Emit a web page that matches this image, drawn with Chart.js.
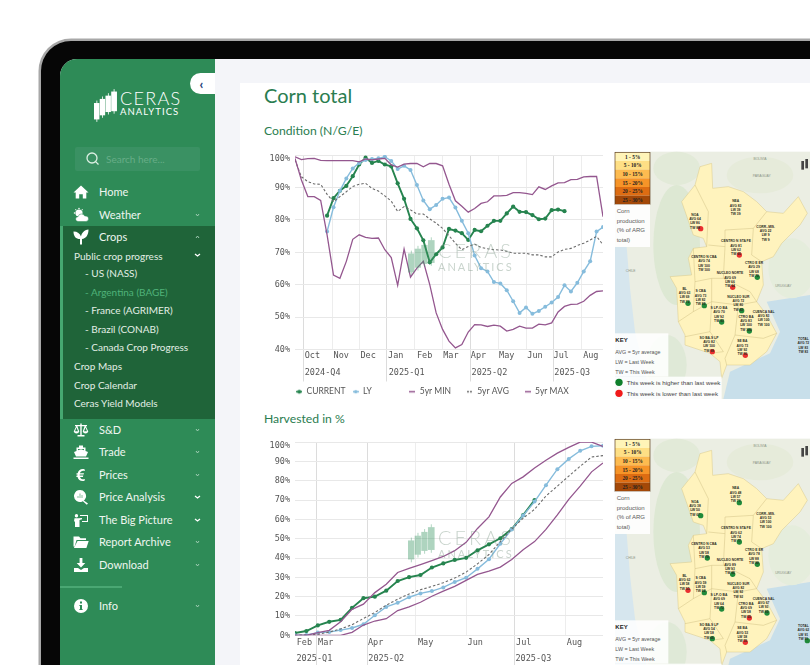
<!DOCTYPE html>
<html><head><meta charset="utf-8">
<script src="https://cdn.jsdelivr.net/npm/chart.js@4"></script>
<style>
html,body{margin:0;padding:0;width:810px;height:665px;overflow:hidden;background:#fff;font-family:Lato,sans-serif}
#root{position:absolute;left:0;top:0;width:810px;height:665px;overflow:hidden;filter:blur(.45px)}
.abs{position:absolute}
#frame{left:41px;top:41px;width:900px;height:800px;border-radius:30px;background:#060606;box-shadow:0 0 0 2.5px #a8a8a8}
#content{left:60px;top:59px;width:800px;height:700px;background:#f4f5f9;border-radius:17px 0 0 0;overflow:hidden}
#card{left:240px;top:83px;width:600px;height:620px;background:#fff}
#side{left:60px;top:59px;width:155px;height:640px;background:#2e8b57;border-radius:17px 0 0 0;overflow:hidden}
.t{position:absolute;white-space:nowrap;line-height:1;transform:translateY(-50%)}
.m{color:#eef6f0;font-size:11px}
.s{color:#e3efe6;font-size:10px}
canvas{position:absolute}
</style></head><body>
<div id="root">
<div class="abs" id="frame"></div>
<div class="abs" id="content"></div>
<div class="abs" id="card"></div>
<div class="abs" id="side"></div>
<div id="chrome"></div>
<div class="t" style="left:264px;top:95px;font-size:20px;color:#2a7d50">Corn total</div>
<div class="t" style="left:264px;top:130.5px;font-size:12.2px;color:#2a7d50">Condition (N/G/E)</div>
<div class="t" style="left:264px;top:418.5px;font-size:12.2px;color:#2a7d50">Harvested in %</div>
<canvas id="c1" style="left:262px;top:145px" width="348" height="261"></canvas>
<canvas id="c2" style="left:262px;top:432px" width="348" height="233"></canvas>
<div id="marks"></div>
<div id="maps"></div>
</div>
<script>
// ---------- Condition (N/G/E) ----------
const condCurrent=[null,null,null,null,null,81.3,86.7,89,90.5,93.5,97.1,99.2,97.6,98.2,97.1,96.5,91.3,86.5,80.3,77.4,73.7,66.9,69.4,71.5,77.2,76.7,75.9,73.8,76.9,76.5,78.2,79.7,79.7,82,84.1,82.5,82.4,81.5,80.2,80.4,83,83.2,82.7];
const condLY=[null,null,null,null,null,76.4,83.9,89,92.8,95.9,97.6,98.5,98.8,99,99.5,98.2,95.7,96.7,95.4,90.8,86,83.3,84.6,86.5,86.9,83.8,79.7,75.9,69,65.1,64.1,60.8,60.4,58.3,54.9,51.3,53,51,51.9,53.2,54.5,56.2,59.8,57.9,60.6,64.1,67.2,76.4,77.8];
const condMin=[99,92.3,87.2,87.2,86,75.4,63,62,67.2,74,75.4,74.6,74.3,74.4,70.8,68.4,59.8,71,62.3,65.1,67.2,60,51.3,46.2,42.6,40.5,41.5,45.4,47.7,47.6,47.1,47.5,47.2,45.7,46.2,47.2,46.6,46.6,47.8,47.6,48.2,51.6,53.3,53.9,54,54.9,56.7,57.9,58.1];
const condAvg=[98.5,93.3,91.8,91.1,91,87.9,85.6,87.2,88.7,90.3,91,91.3,89.7,88.9,87.4,85.8,82.6,84.1,83.1,81.8,81.8,80.3,79,77.4,75.1,72.8,70.8,71.8,72.5,71.5,71.1,70.8,70.7,70.3,69.7,69.7,69.7,69.2,69.2,68.6,68.6,70.1,70.9,71.2,72.1,72.8,73.8,74.9,72.3];
const condMax=[99.5,98.6,98.9,99,98.4,98.3,98.3,98.3,98.3,98.3,97.9,98.8,98.5,98.8,99,97,96.3,97.2,97.4,97.4,96.4,97.4,97.4,96.7,91,85.9,84.2,82.4,83.5,85.1,85.6,87.4,87.4,87.6,88.4,88.4,88.2,87.8,90.2,89.4,90.5,91.4,91.5,92.4,92.5,93.3,93.4,93.4,81];
const condMonths=['Oct','Nov','Dec','Jan','Feb','Mar','Apr','May','Jun','Jul','Aug'];
const condMonthAt=[2.7,7.2,11.4,15.7,20.2,24.3,28.6,33,37.4,41.5,46.1];
const condQuarters=['2024-Q4','2025-Q1','2025-Q2','2025-Q3'];
const condQuarterAt=[4.3,17.4,30.3,43.2];
const condQuarterLines=[1.3,14.3,27.3,40.3];
const condMonthLines=[5.8,10.1,18.7,23,31.7,36,44.6];
const condYGrid=[40,50,60,70,80,90,100];
const condYLabelAt=[40,50,60,70,80,90,98.8];
const condYLabels=['40%','50%','60%','70%','80%','90%','100%'];
// ---------- Harvested in % ----------
const harvCurrent=[1.2,2.2,5.1,7,8,14.2,19.2,20,23.1,28.1,30.1,31.2,35.1,37.2,39,40.1,44,47.1,50.2,55,62.2,70];
const harvLY=[0,.2,1.4,1.7,2.7,3.8,5.7,10.4,14.7,16.8,19.7,21.7,22.9,24.8,27.6,29.8,34.4,39.4,47.4,54.8,62,69.2,77.7,86,91.3,95.5,97.8,98.1];
const harvMin=[0,0,0,0,0,1.5,5.3,7.4,8.6,12.8,14.7,17.1,20.2,22.9,25.3,28.4,31.5,33.2,35.3,39.2,44.3,48.5,54.8,62.3,70.4,77.2,84.6,89.2];
const harvAvg=[0,.2,.5,1.7,3.3,5.5,8.7,11.8,15.6,18.7,21.4,23.6,25.3,27.2,29.6,32.7,37,41.8,48.5,55,60.6,65.2,72.1,77.2,82.4,87.5,92.3,93];
const harvMax=[0,0,1.4,2.6,7,13.4,16.1,22.1,26.4,32.5,34.6,36.6,38.7,40.8,43.8,48.1,55.3,61.3,71.6,78.6,82,86.6,90.6,94.3,97.3,100,100,97.8];
const harvMonths=['Feb','Mar','Apr','May','Jun','Jul','Aug'];
const harvMonthAt=[.82,2.69,7.07,11.45,15.8,20.05,24.5];
const harvQuarters=['2025-Q1','2025-Q2','2025-Q3'];
const harvQuarterAt=[1.7,8,20.9];
const harvQuarterLines=[1.9,6.34,19.27];
const harvMonthLines=[10.6,15,23.7];
const harvYGrid=[0,10,20,30,40,50,60,70,80,90,100];
const harvYLabelAt=[0,10,20,30,40,50,60,70,80,90,98];
const harvYLabels=['0%','10%','20%','30%','40%','50%','60%','70%','80%','90%','100%'];

const GREEN='#26844f',BLUE='#86bcdc',PURPLE='#94578f',GREY='#6b6b6b';
const FONT={family:'"DejaVu Sans Mono",monospace',size:8.5};
const LEGFONT={family:'Lato,sans-serif',size:8.5};
const TICK='#555';

function icon(col,dot,dash){const c=document.createElement('canvas');c.width=6;c.height=7;const x=c.getContext('2d');
 x.strokeStyle=col;x.lineWidth=1.5;x.setLineDash(dash?[2,1]:[]);x.beginPath();x.moveTo(0,3.5);x.lineTo(6,3.5);x.stroke();
 x.fillStyle=col;x.beginPath();x.arc(3,3.5,dot,0,7);x.fill();return c;}
function padded(t,w){const c=document.createElement('canvas').getContext('2d');c.font=LEGFONT.size+'px '+LEGFONT.family;
 while(c.measureText(t).width<w)t+=' ';return t;}

function axisAt(pos,grid,extra){return Object.assign({type:'linear',position:'bottom',weight:-1,min:0,max:0,
  grid:grid,border:{display:false},ticks:{display:false},afterBuildTicks:s=>{s.ticks=pos.map(v=>({value:v}))},afterFit:s=>{s.height=0}},extra||{});}
function labelAxis(pos,names,h,pad,weight){return {type:'linear',position:'bottom',weight:weight,min:0,max:0,
  grid:{display:false,drawTicks:false},border:{display:false},
  ticks:{font:FONT,color:TICK,padding:pad,autoSkip:false,maxRotation:0,minRotation:0,callback:(v,i)=>names[i]},
  afterBuildTicks:s=>{s.ticks=pos.map(v=>({value:v}))},afterFit:s=>{s.height=h}};}

function draw(id,d){
 const n=d.max.length;
 const weeks=d.max.map((_,i)=>i);
 const ds=(label,data,color,extra)=>Object.assign({label,data,borderColor:color,backgroundColor:color,pointRadius:0,borderWidth:1.3,tension:0,xAxisID:'x',yAxisID:'y',spanGaps:false},extra||{});
 const scales={
  x:labelAxis(d.monthAt,d.months,d.mh,d.mp,1),
  xq:labelAxis(d.quarterAt,d.quarters,d.qh,d.qp,2),
  xm:axisAt(d.monthLines,{color:'#ededed',lineWidth:1,drawTicks:false}),
  xb:axisAt(d.quarterLines,{color:'#dcdcdc',lineWidth:1,drawTicks:true,tickLength:d.tl,tickColor:'#dcdcdc'}),
  y:{type:'linear',position:'left',min:d.ymin,max:100,weight:1,border:{display:false},grid:{color:'#e8e8e8',lineWidth:1,drawTicks:false},
     ticks:{display:false},afterBuildTicks:s=>{s.ticks=d.yGrid.map(v=>({value:v}))},afterFit:s=>{s.width=0}},
  yl:{type:'linear',position:'left',min:d.ymin,max:100,weight:2,border:{display:false},grid:{display:false,drawTicks:false},
     ticks:{font:FONT,color:TICK,padding:5,autoSkip:false,callback:(v,i)=>d.yLabels[i]},
     afterBuildTicks:s=>{s.ticks=d.yLabelAt.map(v=>({value:v}))},afterFit:s=>{s.width=33}}
 };
 for(const k of ['x','xq','xm','xb']) scales[k].max=n-1;
 const items=[['CURRENT',GREEN,2,false],['LY',BLUE,1.7,false],['5yr MIN',PURPLE,0,false],['5yr AVG',GREY,0,true],['5yr MAX',PURPLE,0,false]];
 new Chart(document.getElementById(id),{type:'line',
  data:{labels:weeks,datasets:[
   ds('5yr MIN',d.min,PURPLE),ds('5yr MAX',d.max,PURPLE),
   ds('5yr AVG',d.avg,GREY,{borderDash:[2.5,2],borderWidth:1.1}),
   ds('LY',d.ly,BLUE,{pointRadius:2,pointBackgroundColor:BLUE,pointBorderWidth:0,borderWidth:1.4}),
   ds('CURRENT',d.cur,GREEN,{pointRadius:2.1,pointBackgroundColor:GREEN,pointBorderWidth:0,borderWidth:1.9})]},
  options:{responsive:false,animation:false,devicePixelRatio:1,
   layout:{autoPadding:false,padding:{top:8.3,right:7,left:0,bottom:0}},
   scales,
   plugins:{tooltip:{enabled:false},title:{display:false},
    legend:{display:d.legend,position:'bottom',align:'center',labels:{font:LEGFONT,color:TICK,usePointStyle:true,pointStyleWidth:6,padding:5,boxHeight:9,
      generateLabels:()=>items.map((it,i)=>({text:i<4?padded(it[0],40.5):it[0],fillStyle:it[1],strokeStyle:it[1],pointStyle:icon(it[1],it[2],it[3]),lineWidth:0,hidden:false,fontColor:TICK}))}}}
  }});
}
draw('c1',{cur:condCurrent,ly:condLY,min:condMin,avg:condAvg,max:condMax,months:condMonths,monthAt:condMonthAt,quarters:condQuarters,quarterAt:condQuarterAt,quarterLines:condQuarterLines,monthLines:condMonthLines,yGrid:condYGrid,yLabelAt:condYLabelAt,yLabels:condYLabels,ymin:40,mh:14,mp:1,qh:19,qp:4,tl:32,legend:true});
draw('c2',{cur:harvCurrent,ly:harvLY,min:harvMin,avg:harvAvg,max:harvMax,months:harvMonths,monthAt:harvMonthAt,quarters:harvQuarters,quarterAt:harvQuarterAt,quarterLines:harvQuarterLines,monthLines:harvMonthLines,yGrid:harvYGrid,yLabelAt:harvYLabelAt,yLabels:harvYLabels,ymin:0,mh:14,mp:2,qh:15.7,qp:4,tl:32,legend:false});

// ---------- page chrome ----------
const sideMain=[['Home',192,'home',0],['Weather',215,'sun',1],['Crops',237,'leaf',3],['S&D',430,'scale',1],['Trade',452,'ship',1],['Prices',475,'euro',1],['Price Analysis',497,'find',2],['The Big Picture',520,'board',2],['Report Archive',542,'folder',1],['Download',565,'down',1],['Info',606,'info',1]];
const sideSub=[['Public crop progress',74,256,0],['- US (NASS)',85,273,0],['- Argentina (BAGE)',85,292,1],['- France (AGRIMER)',85,310,0],['- Brazil (CONAB)',85,329,0],['- Canada Crop Progress',85,347,0],['Crop Maps',74,366,0],['Crop Calendar',74,385,0],['Ceras Yield Models',74,403,0]];
const ICONS={
 home:'<path d="M8 1.5 15.5 8.5H13.3V14.5H9.8V10.3H6.2V14.5H2.7V8.5H.5Z"/>',
 sun:'<circle cx="6" cy="6" r="3.6"/><path d="M6 .5 7 2H5ZM.5 6 2 5V7ZM2 2 3.6 2.6 2.6 3.6ZM10 2 9.4 3.6 8.4 2.6Z"/><path d="M5 14.5a2.4 2.4 0 0 1 0-4.8 3.6 3.6 0 0 1 6.8-.6 2.8 2.8 0 0 1 3.7 2.7 2.7 2.7 0 0 1-2.6 2.7Z" stroke="#2e8b57" stroke-width=".5"/>',
 leaf:'<path d="M7 15.5V10C3 10 .5 7.5.5 2.5 4.5 2.5 7 4.5 8 7.5 8.5 4 11 1 15.5.5 15.5 6 13 9.5 9 10V15.5Z"/>',
 scale:'<path d="M7.3 1.5H8.7V3H14V4.2H12.8L15.3 9.5A3 3 0 0 1 9.7 9.5L11.6 4.2H8.7V13H11.5V14.5H4.5V13H7.3V4.2H4.4L6.3 9.5A3 3 0 0 1 .7 9.5L3.2 4.2H2V3H7.3ZM3.5 5.5 2 9.3H5ZM12.5 5.5 11 9.3H14Z"/>',
 ship:'<path d="M6 1.5H10V3.5H12.5V7L15 8 13 12.5H3L1 8 3.5 7V3.5H6ZM5 5V6.3L8 5.3 11 6.3V5ZM.5 13.5H15.5V15H.5Z"/>',
 euro:'<path d="M11.5 2.2 12 4C9.5 3.2 7.5 4 6.9 6.3H11L10.6 7.6H6.7V8.6H10.3L9.9 9.9H7C7.6 12 9.6 12.8 12 12L11.5 13.8C8 14.7 5.2 13 4.6 9.9H3.3L3.6 8.6H4.5V7.6H3.3L3.6 6.3H4.7C5.3 3 8 1.3 11.5 2.2Z"/>',
 find:'<path d="M7 1a6 6 0 1 1-3.4 10.9 6 6 0 0 1 3.4-10.9ZM10.8 11.4 15 14.6 13.8 15.8 9.9 12.2Z"/><path d="M4.5 9V7H5.5V9ZM6.5 9V4.5H7.5V9ZM8.5 9V6H9.5V9Z" fill="#86bd9c"/>',
 board:'<path d="M7 3H15V10H9V9H14V4H7ZM3.5 2A1.7 1.7 0 1 1 3.4 5.4 1.7 1.7 0 0 1 3.5 2ZM1.5 6.2H5.5L9 6V7.2L6.5 8V15H2V9.5H1Z"/>',
 folder:'<path d="M.5 2.5H6L7.5 4.2H13V6H3.6L1.6 12.5H.5ZM4.5 7H15.7L13.4 14H.9Z"/>',
 down:'<path d="M6.6 1H9.4V6H12.3L8 10.5 3.7 6H6.6ZM1 11H5L8 13 11 11H15V15H1Z"/>',
 info:'<path fill-rule="evenodd" d="M8 1a7 7 0 1 1 0 14A7 7 0 0 1 8 1ZM7 3.5V5.5H9V3.5ZM6.4 7V8H7V11H6.4V12H9.6V11H9V7Z"/>'};
function ceras(x,y,scale,col,textCol,sub){
 const b=[[0,11,3.6,20],[7,6,3.6,20],[14,2,3.6,20],[21,-3,4,24]];
 let bars=b.map(a=>`<rect x="${a[0]}" y="${a[1]}" width="${a[2]+3}" height="${a[3]}" fill="${col}"/><rect x="${a[0]+3}" y="${a[1]-3}" width="1" height="${a[3]+6}" fill="${col}"/>`).join('');
 return `<svg class="abs" style="left:${x}px;top:${y}px;overflow:visible" width="95" height="36" viewBox="0 0 95 36"><g transform="scale(${scale})">${bars}</g></svg>
 <div class="t" style="left:${x+sub[0]}px;top:${y+sub[1]}px;color:${textCol};font-size:${sub[2]}px;letter-spacing:${sub[3]}px;font-weight:300">CERAS</div>
 <div class="t" style="left:${x+sub[0]}px;top:${y+sub[1]+sub[4]}px;color:${textCol};font-size:${sub[5]}px;letter-spacing:${sub[6]}px">ANALYTICS</div>`;}
function chev(x,y,col,w,up){return `<svg class="abs" style="left:${x-w/2-1}px;top:${y-3}px" width="${w+2}" height="6" fill="none" stroke="${col}" stroke-width="${w>4?1.3:.9}"><path d="${up?`M1 4 ${1+w/2} 2 ${1+w} 4`:`M1 2 ${1+w/2} 4 ${1+w} 2`}"/></svg>`;}
let h='';
h+=`<div class="abs" style="left:60px;top:226px;width:155px;height:193px;background:#1f6439"></div><div class="abs" style="left:60px;top:226px;width:3px;height:193px;background:#46a871"></div>`;
h+=`<div class="abs" style="left:60px;top:586px;width:62px;height:2px;background:#4aa773"></div>`;
h+=`<div class="abs" style="left:190px;top:73px;width:25px;height:21px;background:#fff;border-radius:11px 0 0 11px"></div><div class="t" style="left:199.5px;top:83.5px;color:#1d3f7a;font-size:13px;font-weight:900">‹</div>`;
h+=ceras(94,94,.82,'#fff','#fff',[26,4,18,1.3,13.5,9.5,1.05]);
h+=`<div class="abs" style="left:75px;top:147px;width:125px;height:24px;background:#3a9163;border-radius:2px"></div>
<svg class="abs" style="left:85px;top:151px" width="15" height="15" fill="none" stroke="#dcefe3" stroke-width="1.3"><circle cx="7" cy="7" r="5"/><path d="M10.6 10.6 13.5 13.5"/></svg>
<div class="t" style="left:106px;top:159px;font-size:10px;color:#67ad87">Search here...</div>`;
for(const [name,y,ic,ch] of sideMain){
 h+=`<svg class="abs" style="left:73px;top:${y-8}px" width="16" height="16" viewBox="0 0 16 16" fill="#fff">${ICONS[ic]}</svg><div class="t m" style="left:99px;top:${y-1}px">${name.replace('&','&amp;')}</div>`;
 if(ch===1) h+=chev(197,y,'#a9d3bb',3,false);
 if(ch===2) h+=chev(197,y,'#fff',5,false);
 if(ch===3) h+=chev(197,y,'#a9d3bb',3,true);
}
h+=chev(197,255,'#fff',5,false);
for(const [name,x,y,act] of sideSub) h+=`<div class="t s" style="left:${x}px;top:${y-.5}px;${act?'color:#4fb37a':''}">${name}</div>`;
document.getElementById('chrome').innerHTML=h;
document.getElementById('marks').innerHTML=
 '<div style="opacity:.42">'+ceras(408,243,.95,'#3f9a68','#7f9a88',[30,7,20,3,16,11,2])+'</div>'+
 '<div style="opacity:.42">'+ceras(408,530,.95,'#3f9a68','#7f9a88',[30,7,20,3,16,11,2])+'</div>';

// ---------- the two production maps (illustration beside each chart) ----------
const regionsNames=[['NOA',255,212,272,251],['NEA',377,172,388,212],['CORR.-MIS.',467,248,478,288],['CENTRO N STA FE',378,292,388,330],['CENTRO N CBA',282,339,292,378],['CTRO E ER',432,357,442,397],['NUCLEO NORTE',360,388,368,427],['BL',224,434,234,475],['S CBA',272,442,283,482],['NUCLEO SUR',385,458,395,497],['S LP-O BA',327,492,335,531],['CUENCA SAL',461,503,471,543],['CTRO BA',408,518,418,558],['SO BA-S LP',297,581,307,620],['SE BA',397,592,406,631],['TOTAL',580,585,592,626]];
const map1Vals=[[64,86,88,'r'],[83,39,39,''],[22,9,9,''],[81,62,60,'r'],[74,100,100,''],[29,68,70,'g'],[69,66,64,'r'],[63,69,72,'g'],[73,82,85,'g'],[72,80,82,'g'],[70,92,93,'g'],[83,100,100,''],[83,100,100,'g'],[82,100,98,'r'],[73,92,90,'r'],[72,83,83,'']];
const map2Vals=[[38,50,67,'g'],[48,57,73,'g'],[53,100,100,''],[62,74,77,'g'],[53,58,70,'g'],[78,88,90,'g'],[89,93,95,'g'],[62,58,55,'r'],[59,59,62,'g'],[82,92,92,''],[69,64,72,'g'],[67,93,95,'g'],[69,58,55,'r'],[54,58,66,'g'],[53,58,55,'r'],[62,91,91,'g']];
const shades=[['1 - 5%','#fff4b8'],['5 - 10%','#fedf85'],['10 - 15%','#fdbb50'],['15 - 20%','#f69428'],['20 - 25%','#dd6c12'],['25 - 30%','#a34808']];
const outline='M270,65 L305,55 L308,130 L355,125 L400,140 L440,170 L470,200 L520,205 L565,155 L592,205 L570,240 L515,295 L490,335 L455,350 L460,420 L440,470 L470,510 L500,565 L470,620 L420,660 L350,660 L335,700 L330,650 L300,625 L225,600 L225,570 L205,530 L200,430 L180,395 L245,390 L235,340 L250,310 L290,305 L280,280 L250,270 L215,170 L255,120 Z';
const borders='M290,305 L295,200 L255,120 M295,300 L345,305 L345,255 L430,250 L470,200 M430,250 L425,330 L455,350 M345,305 L340,400 L305,400 L305,470 L250,500 L205,530 M250,310 L255,410 L305,400 M255,410 L250,500 M305,470 L300,560 L225,575 M300,560 L340,620 L300,625 M340,400 L420,440 L440,470 M305,470 L385,480 L440,470 M385,480 L375,570 L460,580 L500,565 M375,570 L345,640 L350,660';
function mapSvg(top,vals,key){
 let s=`<svg class="abs" style="left:610px;top:${top}px" width="200" height="260" viewBox="0 0 600 780" font-family="Liberation Sans,sans-serif">`;
 s+=`<rect x="15" y="20" width="585" height="742" fill="#ebeee3"/>`;
 s+=`<path d="M15,305 H50 L60,430 L75,560 L110,700 L150,762 H15Z" fill="#d6e6ee"/>`;
 s+=`<path d="M600,450 L470,470 L510,560 L480,625 L360,680 L340,762 H600Z" fill="#c8dfea"/>`;
 s+=`<ellipse cx="200" cy="300" rx="70" ry="180" fill="#dde8d3"/><ellipse cx="170" cy="660" rx="60" ry="90" fill="#dfe9d7"/><ellipse cx="200" cy="70" rx="70" ry="50" fill="#e2ead8"/><ellipse cx="545" cy="370" rx="70" ry="90" fill="#e5edDc"/><ellipse cx="450" cy="90" rx="100" ry="55" fill="#e6ebda"/>`;
 s+=`<path d="${outline}" fill="#fff3bd" stroke="#d8c98a" stroke-width="1.5"/><path d="${borders}" fill="none" stroke="#c9b97d" stroke-width="1.3"/>`;
 for(const [t,x,y] of [['PARAGUAY',455,97],['CHILE',62,381],['URUGUAY',520,427],['BOLIVIA',450,45]]) s+=`<text x="${x}" y="${y}" font-size="10" fill="#8b9386" text-anchor="middle">${t}</text>`;
 regionsNames.forEach((r,i)=>{const v=vals[i];
  if(v[3]) s+=`<circle cx="${r[3]}" cy="${r[4]}" r="8" fill="${v[3]==='r'?'#ea2f2f':'#1f8a3a'}"/>`;
  [r[0],'AVG '+v[0],'LW '+v[1],'TW '+v[2]].forEach((t,j)=>{s+=`<text x="${r[1]}" y="${r[2]+j*13}" font-size="10" font-weight="700" fill="#2b2b1e" text-anchor="middle">${t}</text>`});
 });
 shades.forEach((c,i)=>{s+=`<rect x="15" y="${22+i*26}" width="105" height="26" fill="${c[1]}"/><text x="68" y="${41+i*26}" font-family="Liberation Serif,serif" font-size="16" font-weight="700" fill="#222" text-anchor="middle">${c[0]}</text>`});
 s+=`<rect x="15" y="22" width="105" height="156" fill="none" stroke="#5a3a1a" stroke-width="2"/>`;
 s+=`<rect x="15" y="178" width="105" height="128" fill="#fff" opacity=".88"/>`;
 ['Corn','production','(% of ARG','total)'].forEach((t,i)=>{s+=`<text x="20" y="${204+i*29}" font-size="18" fill="#5a5a5a">${t}</text>`});
 s+=`<rect x="15" y="565" width="160" height="130" fill="#fff" opacity=".88"/><rect x="15" y="695" width="320" height="67" fill="#fff" opacity=".88"/>`;
 s+=`<text x="16" y="592" font-size="18" font-weight="700" fill="#222">KEY</text>`;
 ['AVG = 5yr average','LW = Last Week','TW = This Week'].forEach((t,i)=>{s+=`<text x="16" y="${627+i*30}" font-size="16" fill="#555">${t}</text>`});
 if(key){s+=`<circle cx="27" cy="712" r="11" fill="#0f7f2c"/><circle cx="27" cy="745" r="11" fill="#f01a1a"/><text x="50" y="719" font-size="18.5" fill="#444">This week is higher than last week</text><text x="50" y="752" font-size="18.5" fill="#444">This week is lower than last week</text>`;}
 s+=`<rect x="574" y="48" width="8" height="26" fill="#444"/><rect x="586" y="42" width="8" height="28" fill="#444"/>`;
 return s+'</svg>';
}
document.getElementById('maps').innerHTML=mapSvg(145,map1Vals,true)+mapSvg(432,map2Vals,false);
</script>
</body></html>
